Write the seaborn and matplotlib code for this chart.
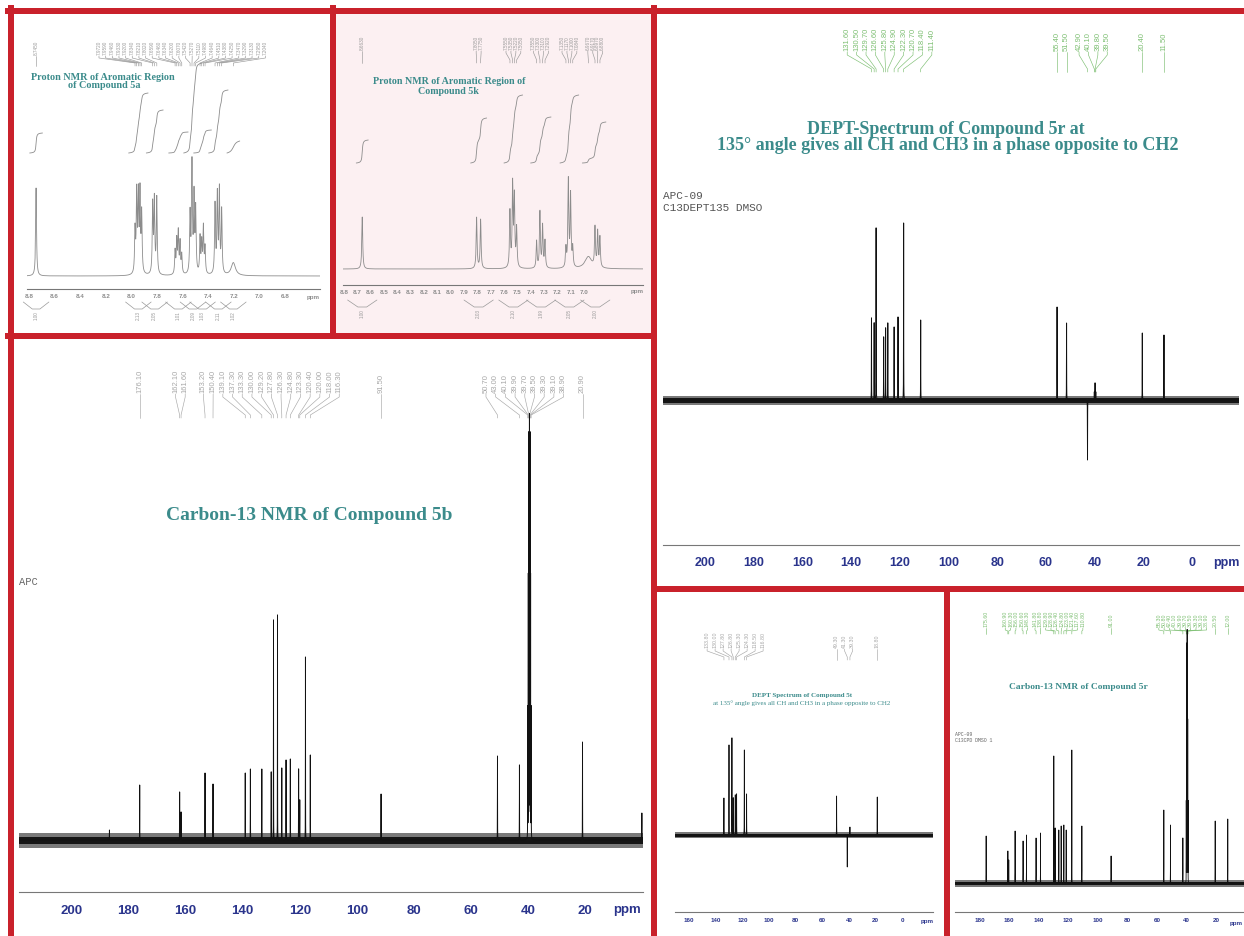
import matplotlib.pyplot as plt
import numpy as np
import pandas as pd
import seaborn as sns
from matplotlib.patches import Rectangle

W, H = 1244, 936

# ---- 1H NMR, compound 5a (aromatic region): multiplets, line heights
h5a_ppm = [[8.745], [7.972, 7.959, 7.946, 7.933, 7.920], [7.834, 7.821, 7.802],
           [7.659, 7.646, 7.634, 7.620, 7.607], [7.542, 7.527, 7.511, 7.498],
           [7.464, 7.451, 7.438, 7.425], [7.347, 7.329, 7.313, 7.295], [7.204]]
h5a_int = [[88], [43, 79, 76, 79, 59], [69, 73, 76], [23, 33, 41, 31, 19],
           [59, 109, 76, 63], [36, 30, 46, 26], [69, 78, 83, 63], [13]]
h5a_hwhm = [0.004, 0.004, 0.004, 0.004, 0.004, 0.004, 0.004, 0.02]
h5a_rise = [20, 60, 43, 21, 90, 23, 63, 12]
h5a_area = ["1.00", "2.13", "2.05", "1.01", "2.09", "1.03", "2.11", "1.02"]
h5a_ticks = [8.8, 8.6, 8.4, 8.2, 8.0, 7.8, 7.6, 7.4, 7.2, 7.0, 6.8]

# ---- 1H NMR, compound 5k (aromatic region)
h5k_ppm = [[8.663], [7.805, 7.775], [7.555, 7.535, 7.522, 7.505],
           [7.355, 7.330, 7.310, 7.292], [7.135, 7.117, 7.100, 7.084],
           [6.967, 6.917, 6.897, 6.880]]
h5k_int = [[52], [51, 49], [56, 82, 69, 39], [27, 56, 42, 27], [19, 87, 72, 19],
           [12, 39, 35, 30]]
h5k_hwhm = [0.004, 0.004, 0.004, 0.004, 0.004, 0.004]
h5k_rise = [23, 45, 68, 46, 68, 41]
h5k_area = ["1.00", "2.03", "2.10", "1.99", "2.05", "2.00"]
h5k_ticks = [8.8, 8.7, 8.6, 8.5, 8.4, 8.3, 8.2, 8.1, 8.0, 7.9, 7.8, 7.7, 7.6,
             7.5, 7.4, 7.3, 7.2, 7.1, 7.0]

# ---- DEPT-135, compound 5r (negative = CH2)
d5r_ppm = [131.6, 130.5, 129.7, 126.6, 125.8, 124.9, 122.3, 120.7, 118.4, 111.4,
           55.4, 51.5, 42.9, 40.1, 39.8, 39.5, 20.4, 11.5]
d5r_int = [82, 77, 172, 63, 72, 77, 73, 83, 177, 80, 93, 77, -60, 8, 17, 8, 67, 65]

# ---- 13C NMR, compound 5b
c5b_ppm = [186.7, 176.1, 162.1, 161.6, 153.2, 150.4, 139.1, 137.3, 133.3, 130.0,
           129.2, 127.8, 126.3, 124.8, 123.3, 120.4, 120.0, 118.0, 116.3, 91.5,
           50.7, 43.0, 40.1, 39.9, 39.7, 39.5, 39.3, 39.1, 38.9, 20.9, 0.1]
c5b_int = [10, 55, 48, 28, 67, 56, 67, 71, 71, 68, 220, 225, 72, 80, 81, 71, 40,
           183, 85, 46, 84, 75, 130, 260, 400, 417, 400, 260, 130, 98, 27]

# ---- DEPT-135, compound 5t
d5t_ppm = [133.8, 130.0, 127.8, 126.8, 125.3, 124.3, 118.5, 116.8, 49.3, 41.3,
           39.3, 18.8]
d5t_int = [37, 90, 97, 37, 40, 41, 85, 41, 39, -32, 8, 38]

# ---- 13C NMR, compound 5r
c5r_ppm = [175.6, 160.9, 160.3, 156.0, 150.6, 148.3, 141.8, 138.8, 129.8, 128.9,
           126.4, 124.8, 123.0, 121.4, 117.6, 110.8, 91.0, 55.3, 50.8, 42.4, 40.1,
           39.9, 39.7, 39.5, 39.3, 39.1, 38.9, 20.5, 12.0]
c5r_int = [47, 32, 23, 52, 42, 48, 45, 50, 127, 55, 53, 57, 58, 53, 133, 57, 27,
           73, 58, 45, 80, 160, 235, 248, 235, 160, 80, 62, 64]

RED = "#c9212b"
TEAL = "#3b8b8b"
NAVY = "#2a348c"
GREEN = "#7dbf72"
GREY = "#8c8c8c"

sns.set_style("white")
plt.rcParams["font.family"] = ["Liberation Sans", "DejaVu Sans"]

fig = plt.figure(figsize=(W / 100, H / 100), dpi=100)


def ftext(x, y, s, **kw):
    fig.text(x / W, 1 - y / H, s, **kw)


def fline(xs, ys, **kw):
    fig.add_artist(plt.Line2D([x / W for x in xs], [1 - y / H for y in ys],
                              transform=fig.transFigure, **kw))


def panel_axes(x0, x1, y_top, y_axis, xlim):
    ax = fig.add_axes([x0 / W, 1 - y_axis / H, (x1 - x0) / W, (y_axis - y_top) / H])
    ax.set_facecolor("none")
    ax.set_ylim(0, y_axis - y_top)
    ax.set_xlim(*xlim)
    for s in ("top", "left", "right"):
        ax.spines[s].set_visible(False)
    ax.set_yticks([])
    return ax


def trace(ax, ppm, height, hwhm, base, color, lw, n=30000):
    lo, hi = sorted(ax.get_xlim())
    x = np.sort(np.concatenate([np.linspace(lo, hi, n), ppm]))
    y = np.zeros_like(x)
    for p, h, w in zip(ppm, height, hwhm):
        y += h / (1 + ((x - p) / w) ** 2)
    df = pd.DataFrame({"ppm": x, "signal": y + base})
    xlim = ax.get_xlim()
    sns.lineplot(data=df, x="ppm", y="signal", ax=ax, color=color, linewidth=lw,
                 estimator=None, legend=False, zorder=3)
    ax.set_xlim(*xlim)
    ax.set_ylim(0, ax.get_ylim()[1])
    ax.set_xlabel("")
    ax.set_ylabel("")


def noise_band(ax, base, inner, outer):
    ax.axhline(base, color="#7a7a7a", lw=outer * 0.72, zorder=1)
    ax.axhline(base, color="#151515", lw=inner * 0.72, zorder=2)


def style_axis(ax, ticks, fmt, size, color, pad, length, minor=None, hide=()):
    ax.set_xticks(ticks)
    ax.set_xticklabels(["" if t in hide else fmt.format(t) for t in ticks],
                       fontsize=size, color=color, fontweight="bold")
    if minor is not None:
        ax.set_xticks(minor, minor=True)
    ax.tick_params(axis="x", which="major", direction="inout", length=length,
                   width=0.6, color="#777", pad=pad)
    ax.tick_params(axis="x", which="minor", direction="inout", length=length * 0.6,
                   width=0.5, color="#777")
    ax.spines["bottom"].set_color("#777")
    ax.spines["bottom"].set_linewidth(0.8)


def spread(values, gap):
    order = sorted(values, reverse=True)
    clusters = [[v] for v in order]

    def place(c):
        m = np.mean(c)
        return [m + gap * ((len(c) - 1) / 2 - i) for i in range(len(c))]

    merged = True
    while merged:
        merged = False
        for i in range(len(clusters) - 1):
            if place(clusters[i])[-1] - place(clusters[i + 1])[0] < gap:
                clusters[i] = clusters[i] + clusters.pop(i + 1)
                merged = True
                break
    spots = []
    for c in clusters:
        spots += place(c)
    return order, spots


def peak_labels(ax, ppm, gap, fmt, y_txt, y_knee, y_end, color, size):
    peaks, spots = spread(ppm, gap)
    for p, s in zip(peaks, spots):
        ax.text(s, y_txt, fmt.format(p), rotation=90, ha="center", va="bottom",
                fontsize=size, color=color)
        ax.plot([s, s, p, p], [y_txt - 1, y_knee, y_end + 3, y_end], color=color,
                lw=0.45)


def integrals(ax, groups, heights, hwhm, rise, base, margin, color):
    for g, hs, w, r in zip(groups, heights, hwhm, rise):
        x = np.linspace(min(g) - margin, max(g) + margin, 400)
        y = sum(h / (1 + ((x - p) / w) ** 2) for p, h in zip(g, hs))
        c = np.cumsum(y) / np.sum(y)
        ax.plot(x, base + r * (1 - c), color=color, lw=0.6)


def area_labels(ax, groups, areas, y0, half, color, size):
    for g, a in zip(groups, areas):
        c = np.mean(g)
        ax.plot([c + half, c + half * 0.3, c - half * 0.3, c - half],
                [y0, y0 - 7, y0 - 7, y0], color=color, lw=0.5, clip_on=False)
        ax.text(c, y0 - 9, a, rotation=90, ha="center", va="top", fontsize=size,
                color=color, clip_on=False)


flat = lambda nested: [v for g in nested for v in g]

# pink backdrop of the 5k panel
fig.add_artist(Rectangle((336 / W, 1 - 333 / H), 315 / W, 320 / H,
                         transform=fig.transFigure, color="#fcf0f2", zorder=-1))

# ================= 1H 5a =================
ax = panel_axes(27, 320, 14, 289, (8.816, 6.527))
hw = flat([[w] * len(g) for g, w in zip(h5a_ppm, h5a_hwhm)])
trace(ax, flat(h5a_ppm), flat(h5a_int), hw, 13, GREY, 0.6, n=20000)
integrals(ax, h5a_ppm, h5a_int, h5a_hwhm, h5a_rise, 136, 0.05, GREY)
style_axis(ax, h5a_ticks, "{:.1f}", 4.5, GREY, 2, 3)
peak_labels(ax, flat(h5a_ppm), 0.052, "{:.4f}", 234, 231, 223, "#999999", 3.3)
area_labels(ax, h5a_ppm, h5a_area, -13, 0.1, "#999999", 3.3)
ftext(313, 297, "ppm", fontsize=4.5, color=GREY, fontweight="bold", ha="center", va="center")
ftext(103, 77, "Proton NMR of Aromatic Region", fontsize=7.3, color=TEAL,
      family="Liberation Serif", fontweight="bold", ha="center", va="center")
ftext(104, 86, "of Compound 5a", fontsize=7.3, color=TEAL,
      family="Liberation Serif", fontweight="bold", ha="center", va="center")

# ================= 1H 5k =================
ax = panel_axes(343, 643, 14, 285, (8.8075, 6.557))
hw = flat([[w] * len(g) for g, w in zip(h5k_ppm, h5k_hwhm)])
hw[-4] = 0.03
trace(ax, flat(h5k_ppm), flat(h5k_int), hw, 16, GREY, 0.6, n=20000)
integrals(ax, h5k_ppm, h5k_int, h5k_hwhm, h5k_rise, 122, 0.045, GREY)
style_axis(ax, h5k_ticks, "{:.1f}", 4.5, GREY, 2, 3)
peak_labels(ax, flat(h5k_ppm), 0.037, "{:.4f}", 235, 232, 222, "#999999", 3.3)
area_labels(ax, h5k_ppm, h5k_area, -15, 0.11, "#999999", 3.3)
ftext(637, 292, "ppm", fontsize=4.5, color=GREY, fontweight="bold", ha="center", va="center")
ftext(449, 82, "Proton NMR of Aromatic Region of", fontsize=7.2, color=TEAL,
      family="Liberation Serif", fontweight="bold", ha="center", va="center")
ftext(448, 92, "Compound 5k", fontsize=7.2, color=TEAL,
      family="Liberation Serif", fontweight="bold", ha="center", va="center")

# ================= DEPT 5r =================
ax = panel_axes(663, 1239, 14, 545, (217.2, -19.3))
noise_band(ax, 145, 5, 9)
trace(ax, d5r_ppm, d5r_int, [0.03] * len(d5r_ppm), 145, "#111111", 0.7)
style_axis(ax, list(range(200, -1, -20)), "{:d}", 9, NAVY, 6, 6,
           minor=list(range(210, -20, -10)))
peak_labels(ax, d5r_ppm, 3.86, "{:.2f}", 494, 490, 473, GREEN, 5.5)
ftext(1226, 563, "ppm", fontsize=9, color=NAVY, fontweight="bold", ha="center", va="center")
ftext(946, 129, "DEPT-Spectrum of Compound 5r at", fontsize=13, color=TEAL,
      family="Liberation Serif", fontweight="bold", ha="center", va="center")
ftext(948, 146, "135\u00b0 angle gives all CH and CH3 in a phase opposite to CH2",
      fontsize=13, color=TEAL, family="Liberation Serif", fontweight="bold",
      ha="center", va="center")
ftext(663, 196, "APC-09", fontsize=8, color="#555555", family="Liberation Mono", va="center")
ftext(663, 208, "C13DEPT135 DMSO", fontsize=8, color="#555555", family="Liberation Mono",
      va="center")

# ================= 13C 5b =================
ax = panel_axes(19, 643, 342, 892, (218.4, -0.3))
noise_band(ax, 52, 7, 15)
trace(ax, c5b_ppm, c5b_int, [0.02] * len(c5b_ppm), 52, "#111111", 0.7)
style_axis(ax, list(range(200, -1, -20)), "{:d}", 9.5, NAVY, 6, 6,
           minor=list(range(210, -1, -10)), hide=(0,))
peak_labels(ax, c5b_ppm[1:-1], 3.4, "{:.2f}", 499, 495, 474, "#a8a8a8", 5.5)
ftext(627, 910, "ppm", fontsize=9.5, color=NAVY, fontweight="bold", ha="center", va="center")
ftext(309, 515, "Carbon-13 NMR of Compound 5b", fontsize=14, color=TEAL,
      family="Liberation Serif", fontweight="bold", ha="center", va="center")
ftext(19, 582, "APC", fontsize=7.5, color="#666666", family="Liberation Mono", va="center")

# ================= DEPT 5t =================
ax = panel_axes(675, 933, 596, 912, (170.5, -23.0))
noise_band(ax, 77, 3, 6)
trace(ax, d5t_ppm, d5t_int, [0.05] * len(d5t_ppm), 77, "#111111", 0.6)
style_axis(ax, list(range(160, -1, -20)), "{:d}", 4.5, NAVY, 3, 3,
           minor=list(range(170, -21, -10)))
peak_labels(ax, d5t_ppm, 6.0, "{:.2f}", 264, 261, 252, "#a8a8a8", 3.8)
ftext(927, 922, "ppm", fontsize=4.5, color=NAVY, fontweight="bold", ha="center", va="center")
ftext(802, 695, "DEPT Spectrum of Compound 5t", fontsize=5, color=TEAL,
      family="Liberation Serif", fontweight="bold", ha="center", va="center")
ftext(802, 703, "at 135\u00b0 angle gives all CH and CH3 in a phase opposite to CH2",
      fontsize=5, color=TEAL, family="Liberation Serif", ha="center", va="center")

# ================= 13C 5r =================
ax = panel_axes(955, 1244, 596, 912, (196.7, 1.0))
noise_band(ax, 29, 3, 7)
trace(ax, c5r_ppm, c5r_int, [0.02] * len(c5r_ppm), 29, "#111111", 0.6)
style_axis(ax, list(range(180, 19, -20)), "{:d}", 4.5, NAVY, 3, 3,
           minor=list(range(190, 9, -10)))
peak_labels(ax, c5r_ppm, 3.6, "{:.2f}", 285, 282, 278, GREEN, 3.8)
ftext(1236, 923, "ppm", fontsize=4.5, color=NAVY, fontweight="bold", ha="center", va="center")
ftext(1078, 687, "Carbon-13 NMR of Compound 5r", fontsize=6.8, color=TEAL,
      family="Liberation Serif", fontweight="bold", ha="center", va="center")
ftext(955, 734, "APC-09", fontsize=3.5, color="#666666", family="Liberation Mono", va="center")
ftext(955, 740, "C13CPD DMSO 1", fontsize=3.5, color="#666666", family="Liberation Mono",
      va="center")

# ================= red frames =================
frame = dict(color=RED, lw=6 * 0.72, solid_capstyle="projecting", zorder=10)
fline([8, 1244], [10.5, 10.5], **frame)
fline([10.5, 10.5], [8, 936], **frame)
fline([333, 333], [8, 336], **frame)
fline([654, 654], [8, 936], **frame)
fline([8, 654], [336, 336], **frame)
fline([654, 1244], [589, 589], **frame)
fline([947, 947], [589, 936], **frame)

fig.savefig("out.png", dpi=100)
